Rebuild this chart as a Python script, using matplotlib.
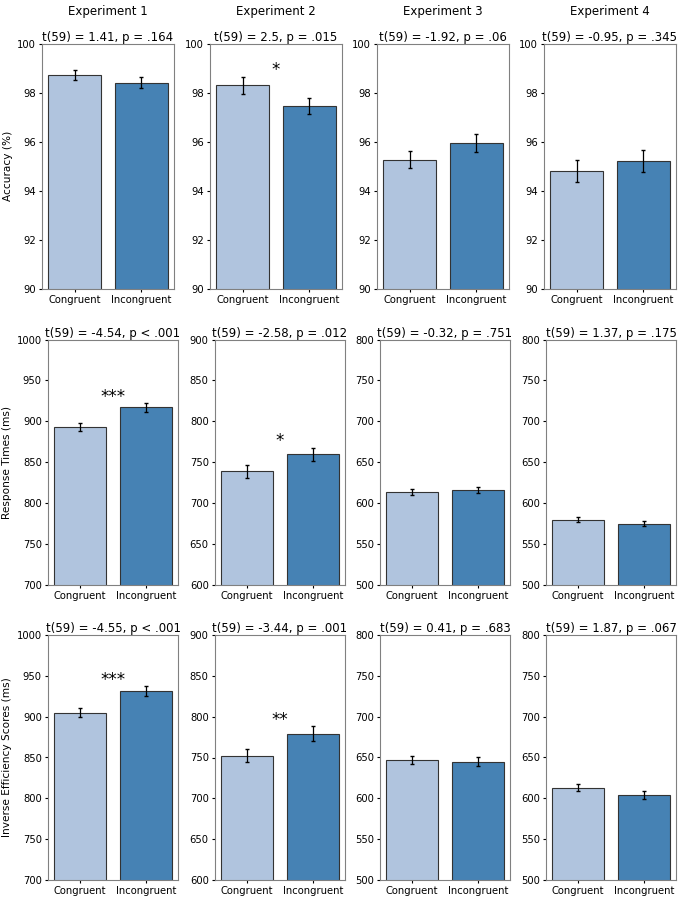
import matplotlib
matplotlib.use("Agg")
import matplotlib.pyplot as plt

experiments = ["Experiment 1", "Experiment 2", "Experiment 3", "Experiment 4"]
conditions = ["Congruent", "Incongruent"]
measures = ["Accuracy (%)", "Response Times (ms)", "Inverse Efficiency Scores (ms)"]

# per experiment: (congruent, incongruent)
acc_mean = [(98.72, 98.40), (98.30, 97.45), (95.27, 95.95), (94.80, 95.20)]
acc_err = [(0.22, 0.22), (0.35, 0.33), (0.35, 0.37), (0.44, 0.45)]
rt_mean = [(893, 917), (739, 760), (614, 616), (580, 575)]
rt_err = [(5, 5), (8, 8), (3.5, 3.5), (3.5, 3.5)]
ies_mean = [(905, 931), (752, 779), (647, 645), (613, 604)]
ies_err = [(5.5, 6), (8, 9), (5, 5), (4.5, 4.5)]

acc_stats = ["t(59) = 1.41, p = .164", "t(59) = 2.5, p = .015",
             "t(59) = -1.92, p = .06", "t(59) = -0.95, p = .345"]
rt_stats = ["t(59) = -4.54, p < .001", "t(59) = -2.58, p = .012",
            "t(59) = -0.32, p = .751", "t(59) = 1.37, p = .175"]
ies_stats = ["t(59) = -4.55, p < .001", "t(59) = -3.44, p = .001",
             "t(59) = 0.41, p = .683", "t(59) = 1.87, p = .067"]

acc_stars = ["", "*", "", ""]
rt_stars = ["***", "*", "", ""]
ies_stars = ["***", "**", "", ""]

ylims = [[(90, 100)] * 4,
         [(700, 1000), (600, 900), (500, 800), (500, 800)],
         [(700, 1000), (600, 900), (500, 800), (500, 800)]]

means = [acc_mean, rt_mean, ies_mean]
errs = [acc_err, rt_err, ies_err]
stats = [acc_stats, rt_stats, ies_stats]
stars = [acc_stars, rt_stars, ies_stars]

colors = ["#b0c4de", "#4682b4"]

W, H = 685, 900
# panel boxes in pixels: lefts per row, width, top, bottom
row_lefts = [[42, 210, 377, 544], [48, 215, 380, 546], [48, 215, 380, 546]]
row_width = [132, 130, 130]
row_top = [43.5, 339.5, 635]
row_bottom = [289, 585, 880]

fig = plt.figure(figsize=(W / 100, H / 100), dpi=100)

for r in range(3):
    for c in range(4):
        x0 = row_lefts[r][c] / W
        y0 = 1 - row_bottom[r] / H
        w = row_width[r] / W
        h = (row_bottom[r] - row_top[r]) / H
        ax = fig.add_axes([x0, y0, w, h])
        m = means[r][c]
        e = errs[r][c]
        ax.bar([0, 1], m, color=colors, edgecolor="#333333", linewidth=0.8)
        ax.errorbar([0, 1], m, yerr=e, fmt="none", ecolor="black",
                    elinewidth=0.9, capsize=1.5)
        ax.set_xticks([0, 1])
        ax.set_xticklabels(conditions)
        ax.set_ylim(*ylims[r][c])
        ax.tick_params(axis="both", labelsize=7.2, length=2.5, pad=2)
        ax.set_title(stats[r][c], fontsize=8.5, pad=2)
        for sp in ax.spines.values():
            sp.set_color("#808080")
        if stars[r][c]:
            top = max(mm + ee for mm, ee in zip(m, e))
            span = ylims[r][c][1] - ylims[r][c][0]
            ax.text(0.5, top - 0.01 * span, stars[r][c], ha="center",
                    va="bottom", fontsize=12)
        if c == 0:
            ax.set_ylabel(measures[r], fontsize=7.6, labelpad=3)
        if r == 0:
            fig.text(x0 + w / 2, 0.987, experiments[c], ha="center",
                     va="center", fontsize=8.5)

fig.savefig("out.png", dpi=100)
